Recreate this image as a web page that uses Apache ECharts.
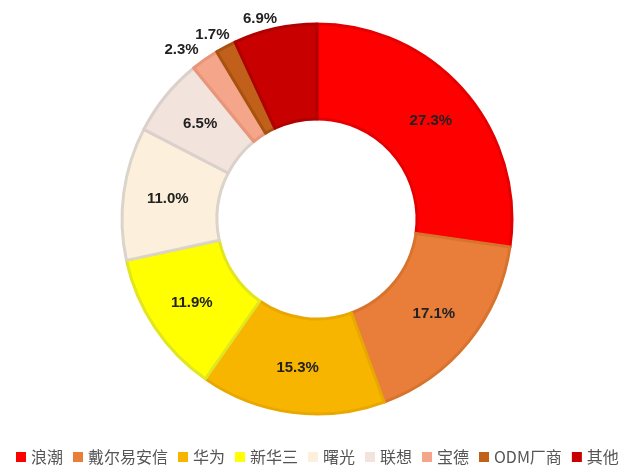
<!DOCTYPE html>
<html>
<head>
<meta charset="utf-8">
<script src="https://cdn.jsdelivr.net/npm/echarts@6/dist/echarts.min.js"></script>
<style>
html,body{margin:0;padding:0;background:#fff;}
#c{width:621px;height:466px;}
</style>
</head>
<body>
<div id="c"></div>
<script>
const categories = ['浪潮','戴尔易安信','华为','新华三','曙光','联想','宝德','ODM厂商','其他'];
const shares = [27.3, 17.1, 15.3, 11.9, 11.0, 6.5, 2.3, 1.7, 6.9];
const fillColors = ['#FF0000','#E97E3B','#F7B500','#FFFF00','#FCF0DC','#F3E3DD','#F4A58A','#C0601A','#C80000'];
const edgeColors = ['#E40000','#D8732E','#E9A800','#E2E620','#DAD4CA','#DAD0CC','#E8957A','#A8520F','#B00000'];
const outsideLabels = ['宝德','ODM厂商','其他'];
// small nudges for the outside labels (styling, not data)
const outsideNudge = { '宝德': [4, -2], 'ODM厂商': [13, -4], '其他': [9, -1] };

const chart = echarts.init(document.getElementById('c'), null, {renderer:'canvas'});
const data = categories.map((name, i) => {
  const outside = outsideLabels.includes(name);
  return {
    name: name,
    value: shares[i],
    itemStyle: { color: fillColors[i], borderColor: edgeColors[i], borderWidth: 3 },
    label: outside ? { position: 'outside' } : { position: 'inside' },
    labelLine: { show: false, length: 9, length2: 0 }
  };
});
chart.setOption({
  animation: false,
  legend: {
    data: categories,
    top: 444,
    left: 11,
    width: 610,
    icon: 'rect',
    itemWidth: 10,
    itemHeight: 10,
    itemGap: 10,
    itemStyle: { borderWidth: 0 },
    textStyle: { fontSize: 16, color: '#555', fontFamily: '"Noto Sans CJK SC", "Liberation Sans", sans-serif' }
  },
  series: [{
    type: 'pie',
    center: [317, 219],
    radius: [100, 195],
    startAngle: 90,
    clockwise: true,
    avoidLabelOverlap: false,
    labelLayout: function (params) {
      const n = outsideNudge[categories[params.dataIndex]];
      if (!n) return { hideOverlap: false };
      return { hideOverlap: false, dx: n[0], dy: n[1] };
    },
    label: {
      show: true,
      formatter: function(p){ return p.value.toFixed(1) + '%'; },
      fontFamily: '"Liberation Sans", Arial, sans-serif',
      fontWeight: 'bold',
      fontSize: 15,
      color: '#222'
    },
    labelLine: { show: false },
    emphasis: { disabled: true },
    data: data
  }]
});
</script>
</body>
</html>
